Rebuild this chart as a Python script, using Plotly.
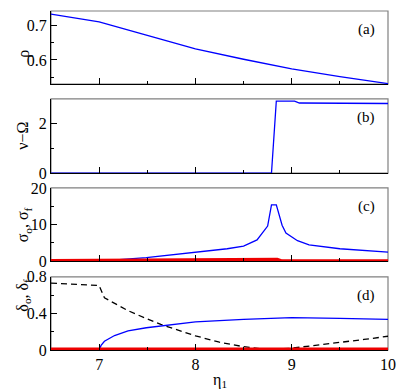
import plotly.graph_objects as go

# panel (a): rho
eta_rho = [6.5, 7.0, 7.5, 8.0, 8.5, 9.0, 9.5, 10.0]
rho = [0.734, 0.711, 0.672, 0.632, 0.602, 0.574, 0.551, 0.531]

# panel (b): nu - Omega
eta_nu = [6.5, 8.79, 8.84, 9.03, 9.08, 10.0]
nu_om = [0.0, 0.0, 2.91, 2.91, 2.83, 2.81]

# panel (c): sigma_o, sigma_f
eta_sig = [6.5, 7.0, 7.49, 7.99, 8.33, 8.5, 8.64, 8.75, 8.79, 8.84, 8.9, 8.94, 9.06, 9.18, 9.5, 10.0]
sig_o = [0.0, 0.0, 0.97, 2.3, 3.4, 4.1, 5.8, 9.6, 15.4, 15.4, 9.8, 7.7, 5.6, 4.45, 3.4, 2.5]
eta_sigf = [6.5, 7.0, 8.0, 8.85, 8.9, 10.0]
sig_f = [0.2, 0.25, 0.35, 0.5, 0.1, 0.1]

# panel (d): delta_o, delta_f and dashed curve
eta_dd = [6.5, 7.0, 7.055, 7.3, 7.49, 7.64, 8.0, 8.25, 8.5, 8.75, 9.0, 9.25, 9.5, 9.75, 10.0]
del_dash = [0.73, 0.705, 0.57, 0.43, 0.343, 0.28, 0.155, 0.085, 0.036, 0.005, 0.02, 0.05, 0.08, 0.115, 0.15]
eta_do = [6.5, 7.0, 7.02, 7.055, 7.16, 7.3, 7.49, 7.64, 8.0, 8.5, 9.0, 9.5, 10.0]
del_o = [0.0, 0.0, 0.05, 0.095, 0.158, 0.208, 0.243, 0.264, 0.307, 0.335, 0.353, 0.345, 0.335]
eta_df = [6.5, 10.0]
del_f = [0.01, 0.01]

FONT = "Liberation Serif, Times New Roman, Times, serif"
BLUE = "#0000ff"
RED = "#ee0000"

fig = go.Figure()

fig.add_trace(go.Scatter(x=eta_rho, y=rho, mode="lines", line=dict(color=BLUE, width=1.3),
                         xaxis="x", yaxis="y"))
fig.add_trace(go.Scatter(x=eta_nu, y=nu_om, mode="lines", line=dict(color=BLUE, width=1.3),
                         xaxis="x2", yaxis="y2"))
fig.add_trace(go.Scatter(x=eta_sig, y=sig_o, mode="lines", line=dict(color=BLUE, width=1.3),
                         xaxis="x3", yaxis="y3"))
fig.add_trace(go.Scatter(x=eta_sigf, y=sig_f, mode="lines", line=dict(color=RED, width=3),
                         xaxis="x3", yaxis="y3"))
fig.add_trace(go.Scatter(x=eta_dd, y=del_dash, mode="lines",
                         line=dict(color="black", width=1.3, dash="6px,4px"),
                         xaxis="x4", yaxis="y4"))
fig.add_trace(go.Scatter(x=eta_do, y=del_o, mode="lines", line=dict(color=BLUE, width=1.3),
                         xaxis="x4", yaxis="y4"))
fig.add_trace(go.Scatter(x=eta_df, y=del_f, mode="lines", line=dict(color=RED, width=3),
                         xaxis="x4", yaxis="y4"))

domains = [[0.784, 1.0], [0.522, 0.741], [0.262, 0.478], [0.0, 0.216]]
yranges = [[0.529, 0.743], [0, 3], [0, 20], [0, 0.8]]
ydticks = [0.1, 2, 10, 0.4]
yminor = [0.05, 1, 5, 0.2]
ytitles = ["ρ", "ν−Ω", "σ<sub>o</sub>, σ<sub>f</sub>", "δ<sub>o</sub>, δ<sub>f</sub>"]
labels = ["(a)", "(b)", "(c)", "(d)"]

layout = dict(
    width=399, height=390,
    margin=dict(l=51, r=10, t=3, b=40),
    paper_bgcolor="white", plot_bgcolor="white",
    showlegend=False,
    font=dict(family=FONT, size=16, color="black"),
)
shapes = []
annotations = []
for i in range(4):
    sx = "" if i == 0 else str(i + 1)
    layout["xaxis" + sx] = dict(
        domain=[0, 1], anchor="y" + sx, range=[6.5, 10],
        dtick=1, tick0=7, ticks="inside", ticklen=6, tickcolor="black",
        minor=dict(dtick=0.5, ticks="inside", ticklen=3, tickcolor="black"),
        showticklabels=(i == 3), showgrid=False, zeroline=False,
        showline=True, linecolor="black", linewidth=1.2,
        fixedrange=True,
    )
    layout["yaxis" + sx] = dict(
        domain=domains[i], anchor="x" + sx, range=yranges[i],
        tick0=0, dtick=ydticks[i], ticks="inside", ticklen=6, tickcolor="black",
        minor=dict(dtick=yminor[i], ticks="inside", ticklen=3, tickcolor="black"),
        showgrid=False, zeroline=False,
        showline=True, linecolor="black", linewidth=1.2,
        fixedrange=True,
    )
    shapes.append(dict(type="rect", xref="paper", yref="paper",
                       x0=0, x1=1, y0=domains[i][0], y1=domains[i][1],
                       line=dict(color="#808080", width=1.2), layer="below"))
    annotations.append(dict(text=ytitles[i], xref="paper", yref="paper",
                            x=-0.115, y=(domains[i][0] + domains[i][1]) / 2,
                            textangle=-90, showarrow=False,
                            font=dict(family=FONT, size=16)))
    annotations.append(dict(text=labels[i], xref="paper", yref="paper",
                            x=0.968, y=domains[i][1] - 0.025,
                            xanchor="right", yanchor="top", showarrow=False,
                            font=dict(family=FONT, size=15)))

annotations.append(dict(text="η<sub>1</sub>", xref="paper", yref="paper",
                        x=0.5, y=-0.09, xanchor="center", yanchor="middle",
                        showarrow=False, font=dict(family=FONT, size=16)))

layout["yaxis"]["tickformat"] = ".1f"
layout["yaxis"]["tick0"] = 0.5
layout["yaxis4"]["tickvals"] = [0, 0.4, 0.8]
layout["yaxis4"]["ticktext"] = ["0", "0.4", "0.8"]
layout["xaxis4"]["ticklabelstandoff"] = 0
layout["shapes"] = shapes
layout["annotations"] = annotations
fig.update_layout(**layout)

# drop the default page margin so the 399x390 figure fills the window
fig.write_html("out.html", config={"displayModeBar": False},
               post_script="document.body.style.margin='0';")
